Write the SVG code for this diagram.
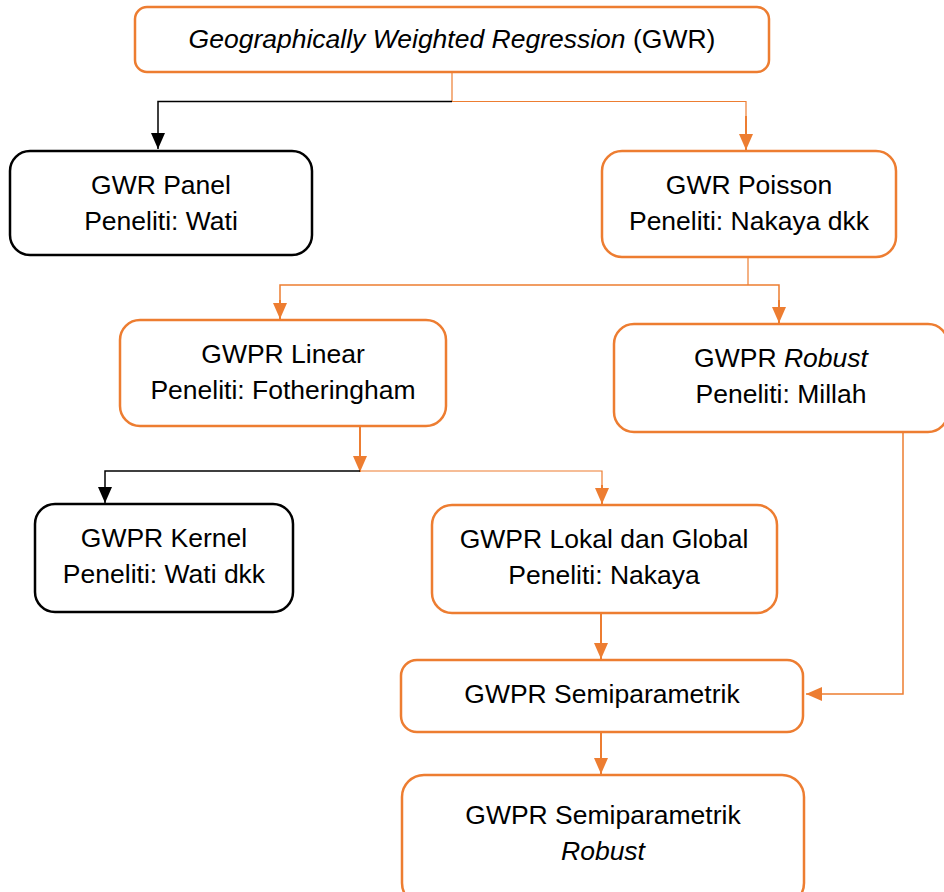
<svg xmlns="http://www.w3.org/2000/svg" width="944" height="892" viewBox="0 0 944 892">
<style>
.bo{fill:#fff;stroke:#ED7D31;stroke-width:2.5}
.bk{fill:#fff;stroke:#000;stroke-width:2.5}
text{font-family:"Liberation Sans",Arial,sans-serif;font-size:26.5px;fill:#000;text-anchor:middle}
.it{font-style:italic}
.co{fill:none;stroke:#ED7D31}
.ck{fill:none;stroke:#000}
</style>
<defs>
<marker id="ao" markerUnits="userSpaceOnUse" markerWidth="16" markerHeight="14" viewBox="0 0 16 14" refX="16" refY="7" orient="auto"><path d="M0,0L16,7L0,14z" fill="#ED7D31"/></marker>
<marker id="ak" markerUnits="userSpaceOnUse" markerWidth="16" markerHeight="14" viewBox="0 0 16 14" refX="16" refY="7" orient="auto"><path d="M0,0L16,7L0,14z" fill="#000"/></marker>
</defs>
<rect width="944" height="892" fill="#fff"/>
<g id="connectors">
<path class="co" stroke-width="1.2" d="M452,72V101.5"/>
<path class="ck" stroke-width="1.5" d="M452,101.5H158V149" marker-end="url(#ak)"/>
<path class="co" stroke-width="1.2" d="M452,101.5H746V116"/>
<path class="co" stroke-width="2" d="M746,116V150" marker-end="url(#ao)"/>
<path class="co" stroke-width="1.2" d="M748,257V285"/>
<path class="co" stroke-width="1.5" d="M748,285H280V300"/>
<path class="co" stroke-width="2" d="M280,300V319" marker-end="url(#ao)"/>
<path class="co" stroke-width="1.5" d="M748,285H779V300"/>
<path class="co" stroke-width="2" d="M779,300V323" marker-end="url(#ao)"/>
<path class="co" stroke-width="2" d="M360,427V472" marker-end="url(#ao)"/>
<path class="ck" stroke-width="1.5" d="M360,471H105V503" marker-end="url(#ak)"/>
<path class="co" stroke-width="1.2" d="M360,471H602V485"/>
<path class="co" stroke-width="2" d="M602,485V504" marker-end="url(#ao)"/>
<path class="co" stroke-width="2" d="M601,613V659" marker-end="url(#ao)"/>
<path class="co" stroke-width="1.5" d="M903,433V694H806" marker-end="url(#ao)"/>
<path class="co" stroke-width="2" d="M601,732V774" marker-end="url(#ao)"/>
</g>
<g id="gwr">
<rect class="bo" x="135" y="7" width="634" height="65" rx="12"/>
<text x="452" y="48"><tspan class="it">Geographically Weighted Regression</tspan> (GWR)</text>
</g>
<g id="gwr-panel">
<rect class="bk" x="10" y="151" width="302" height="104" rx="20"/>
<text x="161" y="194">GWR Panel</text>
<text x="161" y="230">Peneliti: Wati</text>
</g>
<g id="gwr-poisson">
<rect class="bo" x="602" y="151" width="294" height="106" rx="20"/>
<text x="749" y="194">GWR Poisson</text>
<text x="749" y="230">Peneliti: Nakaya dkk</text>
</g>
<g id="gwpr-linear">
<rect class="bo" x="120" y="320" width="326" height="106" rx="20"/>
<text x="283" y="363">GWPR Linear</text>
<text x="283" y="399">Peneliti: Fotheringham</text>
</g>
<g id="gwpr-robust">
<rect class="bo" x="614" y="324" width="334" height="108" rx="20"/>
<text x="781" y="367">GWPR <tspan class="it">Robust</tspan></text>
<text x="781" y="403">Peneliti: Millah</text>
</g>
<g id="gwpr-kernel">
<rect class="bk" x="35" y="504" width="258" height="108" rx="20"/>
<text x="164" y="547">GWPR Kernel</text>
<text x="164" y="583">Peneliti: Wati dkk</text>
</g>
<g id="gwpr-lokal-global">
<rect class="bo" x="432" y="505" width="345" height="108" rx="20"/>
<text x="604" y="548">GWPR Lokal dan Global</text>
<text x="604" y="584">Peneliti: Nakaya</text>
</g>
<g id="gwpr-semiparametrik">
<rect class="bo" x="401" y="660" width="402" height="72" rx="16"/>
<text x="602" y="703">GWPR Semiparametrik</text>
</g>
<g id="gwpr-semiparametrik-robust">
<rect class="bo" x="402" y="775" width="402" height="130" rx="22"/>
<text x="603" y="824">GWPR Semiparametrik</text>
<text x="603" y="860" class="it">Robust</text>
</g>
</svg>
